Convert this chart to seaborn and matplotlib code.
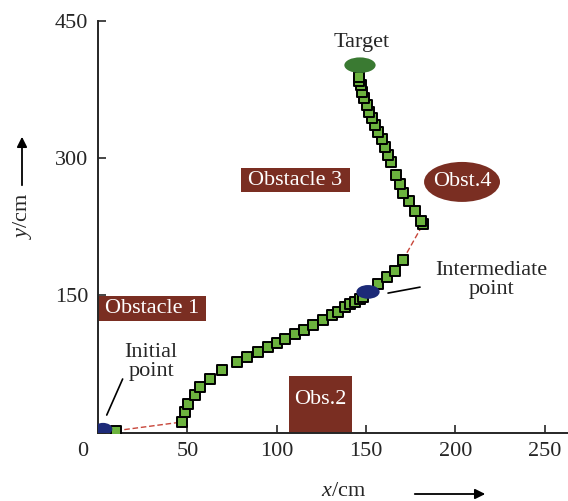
import matplotlib
matplotlib.use("Agg")
import matplotlib.pyplot as plt
import seaborn as sns
import pandas as pd
from matplotlib.patches import Rectangle, Ellipse, FancyArrowPatch

# ---------------- data ----------------
seg1_x = [10.1]
seg1_y = [2.2]
seg2_x = [47.0, 48.7, 50.4, 54.3, 57.1, 62.7, 69.4, 77.8, 83.4, 89.5, 95.1, 100.2,
          104.6, 110.2, 115.3, 120.3, 125.9, 131.0, 134.3, 138.2, 141.0, 143.8,
          146.6, 148.3, 156.7, 161.7, 166.2, 170.6]
seg2_y = [11.7, 22.6, 31.3, 41.2, 49.9, 58.7, 68.5, 77.3, 82.8, 88.2, 93.7, 98.1,
          102.5, 107.9, 112.3, 117.8, 123.3, 128.7, 132.0, 137.4, 140.7, 142.9,
          146.2, 148.4, 162.6, 170.3, 176.8, 188.8]
seg3_x = [181.9, 180.7, 177.4, 174.0, 170.6, 169.0, 166.7, 163.9, 162.3, 160.6,
          158.9, 156.7, 155.0, 153.3, 151.7, 150.5, 148.9, 147.7, 147.2, 146.1, 146.1]
seg3_y = [228.0, 231.3, 242.3, 253.2, 261.9, 271.7, 281.6, 295.8, 303.4, 312.2,
          320.9, 328.6, 336.2, 343.9, 350.4, 358.1, 365.7, 372.3, 379.9, 384.3, 388.6]

initial_pt = (2.8, 4.0)
intermediate_pt = (151.1, 153.9)
target_pt = (146.6, 401.7)

# rectangular obstacles: (x0, y0, width, height)
obstacle_names = ["Obstacle 1", "Obs.2", "Obstacle 3"]
obstacle_boxes = [(0.0, 122.0, 60.4, 27.3), (107.0, 0.0, 35.3, 62.0), (80.0, 263.0, 61.0, 26.0)]
obs4_name = "Obst.4"
obs4_center = (203.7, 274.1)
obs4_size = (42.5, 43.7)

x_ticks = [0, 50, 100, 150, 200, 250]
y_ticks = [0, 150, 300, 450]

# ---------------- style ----------------
BROWN = "#7a2e22"
SQ_GREEN = "#6cb33e"
TGT_GREEN = "#3a7a32"
NAVY = "#1c2a78"
SERIF = ["Liberation Serif", "DejaVu Serif"]
FS = 16

sns.set_style("ticks")
plt.rcParams["font.family"] = SERIF
plt.rcParams["mathtext.fontset"] = "custom"
plt.rcParams["mathtext.rm"] = "Liberation Serif"
plt.rcParams["mathtext.it"] = "Liberation Serif:italic"

fig = plt.figure(figsize=(5.68, 5.01), dpi=100)
ax = fig.add_axes([0.1725, 0.1363, 0.8275, 0.8218])

# red dashed links
link_df1 = pd.DataFrame({"x": [seg1_x[-1], seg2_x[0]], "y": [seg1_y[-1], seg2_y[0]]})
link_df2 = pd.DataFrame({"x": [seg2_x[-1], seg3_x[0]], "y": [seg2_y[-1], seg3_y[0]]})
for d in (link_df1, link_df2):
    ax.plot(d["x"], d["y"], color="#c8463a", lw=1.0, ls=(0, (4, 2)), zorder=2)

path = pd.DataFrame({"x": seg1_x + seg2_x + seg3_x, "y": seg1_y + seg2_y + seg3_y})
sns.scatterplot(data=path, x="x", y="y", marker="s", s=52, color=SQ_GREEN,
                edgecolor="black", linewidth=1.4, ax=ax, zorder=3)

# points
ax.add_patch(Ellipse(initial_pt, 10.5, 13.5, facecolor=NAVY, edgecolor="none", zorder=4))
ax.add_patch(Ellipse(intermediate_pt, 13.0, 15.0, facecolor=NAVY, edgecolor="none", zorder=4))
ax.add_patch(Ellipse(target_pt, 17.5, 17.0, facecolor=TGT_GREEN, edgecolor="none", zorder=4))

# obstacles
for name, (x0, y0, w, h) in zip(obstacle_names, obstacle_boxes):
    ax.add_patch(Rectangle((x0, y0), w, h, facecolor=BROWN, edgecolor="none", zorder=1))
    ty = y0 + h / 2 if name != "Obs.2" else y0 + h * 0.58
    ax.text(x0 + w / 2, ty, name, color="white", fontsize=FS, ha="center",
            va="center", zorder=2)
ax.add_patch(Ellipse(obs4_center, obs4_size[0], obs4_size[1], facecolor=BROWN,
                     edgecolor="none", zorder=1))
ax.text(obs4_center[0], obs4_center[1], obs4_name, color="white", fontsize=FS,
        ha="center", va="center", zorder=2)

# annotations
ax.text(147.7, 427.0, "Target", fontsize=FS, ha="center", va="center")
ax.text(29.7, 77.0, "Initial\npoint", fontsize=FS, ha="center", va="center",
        linespacing=1.0)
ax.plot([13.8, 4.9], [58.7, 19.3], color="black", lw=1.2)
ax.text(220.0, 166.5, "Intermediate\npoint", fontsize=FS, ha="center", va="center",
        linespacing=1.0)
ax.plot([162.3, 180.2], [152.6, 159.1], color="black", lw=1.2)

# axes
ax.set_xlim(0, 263)
ax.set_ylim(0, 450)
ax.set_xticks(x_ticks)
ax.set_xticklabels([""] + [str(v) for v in x_ticks[1:]])
ax.set_yticks(y_ticks)
ax.set_yticklabels([""] + [str(v) for v in y_ticks[1:]])
ax.tick_params(direction="in", length=6, width=1.2, labelsize=FS, pad=7)
for s in ("top", "right"):
    ax.spines[s].set_visible(False)
for s in ("left", "bottom"):
    ax.spines[s].set_linewidth(1.4)
ax.set_xlabel("")
ax.set_ylabel("")

# corner zero and axis titles with arrows
fig.text(83 / 568, 1 - 451 / 501, "0", fontsize=FS, ha="center", va="center")
fig.text(344 / 568, 1 - 492 / 501, r"$x$/cm", fontsize=FS, ha="center", va="center")
fig.text(22 / 568, 1 - 216 / 501, r"$y$/cm", fontsize=FS, ha="center", va="center",
         rotation=90)
fig.patches.append(FancyArrowPatch(
    (412 / 568, 1 - 494 / 501), (488 / 568, 1 - 494 / 501), transform=fig.transFigure,
    arrowstyle="-|>", mutation_scale=15, color="black", lw=1.3))
fig.patches.append(FancyArrowPatch(
    (22 / 568, 1 - 188 / 501), (22 / 568, 1 - 134 / 501), transform=fig.transFigure,
    arrowstyle="-|>", mutation_scale=15, color="black", lw=1.3))

fig.savefig("out.png", dpi=100)
